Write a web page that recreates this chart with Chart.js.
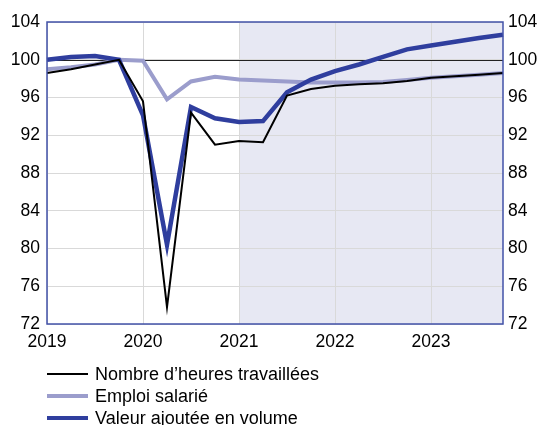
<!DOCTYPE html>
<html>
<head>
<meta charset="utf-8">
<script src="https://cdn.jsdelivr.net/npm/chart.js@4"></script>
<style>
html,body{margin:0;padding:0;background:#fff;}
#wrap{position:relative;width:542px;height:425px;font-family:"Liberation Sans",Arial,sans-serif;}
canvas{position:absolute;left:0;top:0;}
.leg{position:absolute;left:47px;height:22px;display:flex;align-items:center;font-size:18px;color:#000;white-space:nowrap;}
.leg span.l{display:inline-block;width:41px;margin-right:7px;}
</style>
</head>
<body>
<div id="wrap">
<canvas id="c" width="542" height="425"></canvas>
<div class="leg" style="top:363px"><span class="l" style="border-top:2px solid #000"></span>Nombre d’heures travaillées</div>
<div class="leg" style="top:385px"><span class="l" style="border-top:4px solid #9b9dcc"></span>Emploi salarié</div>
<div class="leg" style="top:407px"><span class="l" style="border-top:4px solid #2f3e9e"></span>Valeur ajoutée en volume</div>
</div>
<script>
const quarters = ['2019T1','2019T2','2019T3','2019T4','2020T1','2020T2','2020T3','2020T4','2021T1','2021T2','2021T3','2021T4','2022T1','2022T2','2022T3','2022T4','2023T1','2023T2','2023T3','2023T4'];
const heures = [98.6,99.0,99.5,100.0,95.6,73.8,94.4,91.0,91.4,91.25,96.2,96.9,97.25,97.4,97.5,97.75,98.1,98.25,98.4,98.6];
const emploi = [99.0,99.2,99.5,100.0,99.9,95.8,97.7,98.2,97.9,97.8,97.7,97.6,97.6,97.6,97.65,97.85,98.1,98.25,98.4,98.6];
const valeur = [100.0,100.3,100.4,100.0,94.1,80.4,95.0,93.8,93.4,93.5,96.55,97.9,98.8,99.5,100.3,101.1,101.5,101.9,102.3,102.65];
const yTicks = [72,76,80,84,88,92,96,100,104];
const forecastStart = '2021T1';
const refLevel = 100;

const font = {family:'"Liberation Sans", Arial, sans-serif', size:17.5};
const gridCol = '#d9d9d9';

const plotDeco = {
  id:'plotDeco',
  beforeDraw(chart){
    const {ctx, chartArea:a, scales} = chart;
    const xs = scales.x.getPixelForValue(quarters.indexOf(forecastStart));
    ctx.save();
    ctx.fillStyle = '#e7e8f3';
    ctx.fillRect(xs, a.top, a.right - xs, a.bottom - a.top);
    ctx.restore();
  },
  beforeDatasetsDraw(chart){
    const {ctx, chartArea:a, scales} = chart;
    const y = Math.round(scales.y.getPixelForValue(refLevel)) + 0.5;
    ctx.save();
    ctx.strokeStyle = '#222';
    ctx.lineWidth = 1;
    ctx.beginPath(); ctx.moveTo(a.left, y); ctx.lineTo(a.right, y); ctx.stroke();
    ctx.restore();
  },
  afterDatasetsDraw(chart){
    const {ctx, chartArea:a} = chart;
    ctx.save();
    ctx.strokeStyle = '#4252a8';
    ctx.lineWidth = 1.5;
    ctx.strokeRect(a.left, a.top, a.right - a.left, a.bottom - a.top);
    ctx.restore();
  }
};

new Chart(document.getElementById('c'), {
  type:'line',
  data:{
    labels: quarters,
    datasets:[
      {label:'Nombre d’heures travaillées', data:heures, borderColor:'#000', borderWidth:2, order:0},
      {label:'Emploi salarié', data:emploi, borderColor:'#9b9dcc', borderWidth:4, order:2},
      {label:'Valeur ajoutée en volume', data:valeur, borderColor:'#2f3e9e', borderWidth:4.5, order:1}
    ]
  },
  options:{
    responsive:false,
    animation:false,
    events:[],
    layout:{padding:{top:22,left:0,right:0,bottom:0}},
    elements:{point:{radius:0}, line:{tension:0, borderJoinStyle:'miter', borderCapStyle:'butt'}},
    plugins:{legend:{display:false}, tooltip:{enabled:false}},
    scales:{
      x:{
        type:'category',
        offset:false,
        afterFit(s){ s.height = 101; },
        grid:{drawTicks:false, color:(c)=> (c.index % 4 === 0 ? gridCol : 'rgba(0,0,0,0)'), lineWidth:1},
        border:{display:false},
        ticks:{autoSkip:false, maxRotation:0, padding:8, color:'#000', font,
          callback:(v,i)=> (i % 4 === 0 ? quarters[i].slice(0,4) : '')}
      },
      y:{
        position:'left', min:72, max:104,
        afterFit(s){ s.width = 47; },
        afterBuildTicks(s){ s.ticks = yTicks.map(v=>({value:v})); },
        grid:{drawTicks:false, color:gridCol, lineWidth:1},
        border:{display:false},
        ticks:{padding:7, color:'#000', font}
      },
      y2:{
        position:'right', min:72, max:104,
        afterFit(s){ s.width = 39; },
        afterBuildTicks(s){ s.ticks = yTicks.map(v=>({value:v})); },
        grid:{display:false, drawTicks:false},
        border:{display:false},
        ticks:{padding:5, color:'#000', font}
      }
    }
  },
  plugins:[plotDeco]
});
</script>
</body>
</html>
